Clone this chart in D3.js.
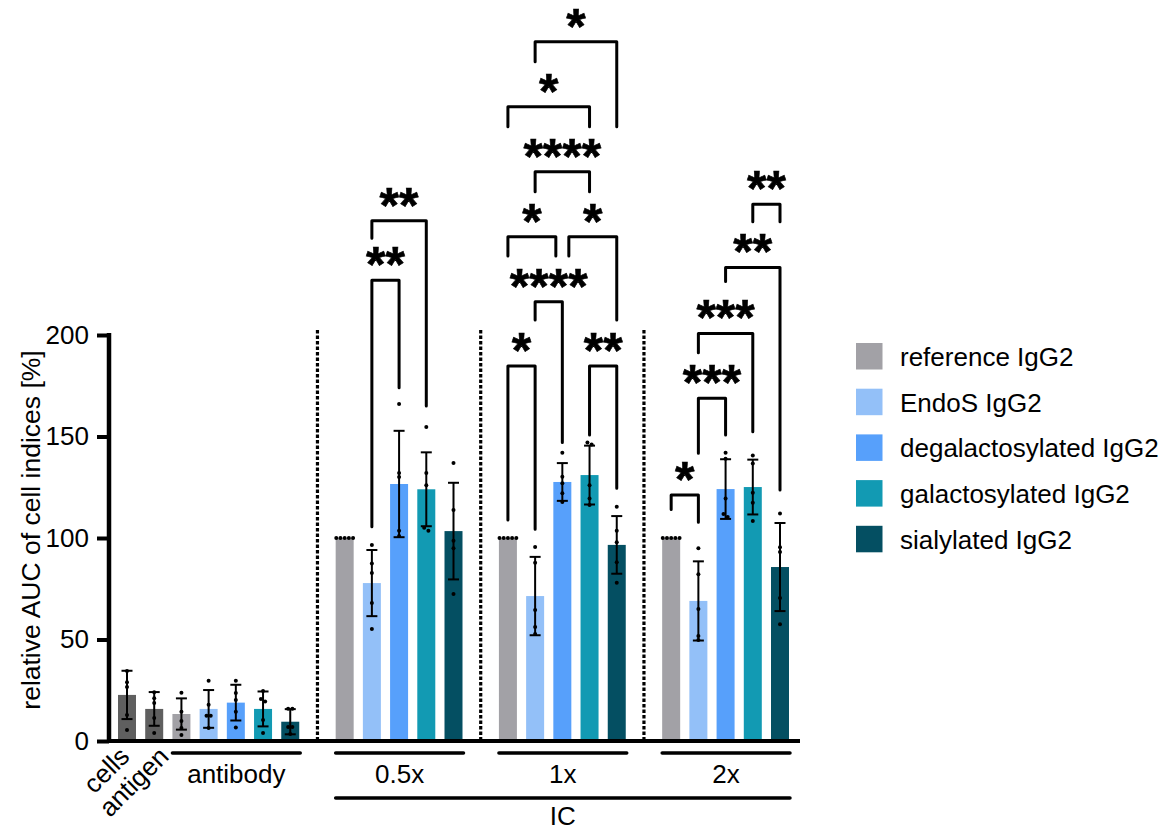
<!DOCTYPE html>
<html>
<head>
<meta charset="utf-8">
<script src="https://cdn.jsdelivr.net/npm/d3@7/dist/d3.min.js"></script>
<style>
  body { margin: 0; background: #fff; }
  svg { display: block; font-family: "Liberation Sans", Arial, sans-serif; }
</style>
</head>
<body>
<svg id="chart" width="1166" height="832"></svg>
<script>
// series (legend) names and colours
const seriesNames = ['reference IgG2', 'EndoS IgG2', 'degalactosylated IgG2', 'galactosylated IgG2', 'sialylated IgG2'];
const seriesColors = ['#a2a1a6', '#93c0f8', '#57a0fb', '#129ab3', '#044f62'];
const controlColor = '#5f5f5f';

// control bars (cells only, antigen only)
const controlNames = ['cells', 'antigen'];
const controlMeans = [22.7, 15.8];
const controlSDs = [11.9, 8.3];
const controlPoints = [
    [34.5, 29, 26.6, 12.8, 5.4],
    [24, 18.7, 21.1, 11.3, 3.9]
];

// grouped bars, one value per series
const groupNames = ['antibody', '0.5x', '1x', '2x'];
const groupMeans = [
    [13.3, 15.8, 18.9, 15.8, 9.5],
    [100, 77.8, 126.6, 124, 103.4],
    [100, 71.4, 127.6, 131, 96.6],
    [100, 69, 124.1, 125.1, 85.7]
];
const groupSDs = [
    [7.7, 9.3, 8.8, 8.6, 6.2],
    [0, 16.3, 26.2, 18.2, 23.8],
    [0, 19.3, 9.3, 14.5, 14.2],
    [0, 19.5, 14.7, 13.5, 21.7]
];
const groupPoints = [
    [[23.8, 14.4, 9.9, 6.4, 3], [29.7, 17.9, 12.5, 12.5, 6.4], [29.7, 23.6, 20.2, 14.4, 6.6], [24.6, 20.7, 19.5, 10.3, 3.9], [15.9, 15.9, 6.9, 6.9, 3.4]],
    [[100, 100, 100, 100, 100], [96.6, 87.5, 82.8, 68, 55.2], [166, 132, 130, 103.6, 101], [154.7, 132, 126, 105, 103.6], [137, 113.8, 98.7, 94.9, 72.4]],
    [[100, 100, 100, 100, 100], [95.6, 87.8, 64.5, 56.2, 52.7], [142, 130.2, 127, 122, 117.7], [147, 146, 126, 119.5, 116.3], [115.4, 103.6, 97.9, 88, 78]],
    [[100, 100, 100, 100, 100], [95, 82.1, 65, 51.7, 49.8], [142, 139, 119.5, 111.8, 110.3], [140.7, 136.7, 122.3, 117.4, 108.4], [112.1, 95.4, 93.1, 70.4, 57.5]]
];

// the IC label spans these groups
const superLabel = 'IC';
const superGroups = [1, 2, 3];

const yTicks = [0, 50, 100, 150, 200];
const yLabel = 'relative AUC of cell indices [%]';

// significance brackets: [group, from series, to series, top, from leg end, to leg end, label]
const brackets = [
    [1, 1, 2, 227, 105.6, 174, '**'],
    [1, 1, 3, 256.3, 247.6, 165, '**'],
    [2, 1, 4, 344.5, 334.6, 302.6, '*'],
    [2, 0, 3, 312.5, 302.6, 302.6, '*'],
    [2, 1, 3, 280.4, 270.6, 270.6, '****'],
    [2, 0, 2, 248.4, 238.9, 238.9, '*'],
    [2, 2, 4, 248.4, 238.9, 207.4, '*'],
    [2, 1, 2, 216.4, 207.4, 147, '****'],
    [2, 0, 1, 184.7, 108.9, 104.3, '*'],
    [2, 3, 4, 184.7, 150.7, 124.5, '**'],
    [3, 0, 1, 121.2, 114.1, 107.7, '*'],
    [3, 1, 2, 168.8, 141.7, 150.7, '***'],
    [3, 1, 3, 200.8, 191.3, 152.4, '***'],
    [3, 2, 4, 233.3, 226.3, 123.6, '**'],
    [3, 3, 4, 264.4, 255.8, 255.8, '**']
];

const svg = d3.select('#chart');
svg.append('rect').attr('width', 1166).attr('height', 832).attr('fill', '#fff');

// slot layout: controls, antibody group, then a gap before every IC group
let slot = 0;
const bars = [];
controlNames.forEach((name, i) => {
    bars.push({ slot: slot++, mean: controlMeans[i], sd: controlSDs[i], pts: controlPoints[i], color: controlColor });
});
const groupSlots = [];
const separators = [];
groupNames.forEach((name, g) => {
    if (g > 0) { separators.push(slot); slot++; }
    groupSlots.push(seriesNames.map((s, k) => slot + k));
    seriesNames.forEach((s, k) => {
        bars.push({ slot: slot++, mean: groupMeans[g][k], sd: groupSDs[g][k], pts: groupPoints[g][k], color: seriesColors[k] });
    });
});
const lastSlot = slot - 1;

const x = d3.scaleLinear().domain([0, lastSlot]).range([127, 780]);
const y = d3.scaleLinear().domain([0, 200]).range([741, 335]);
const barW = 18;
const axisX = 109;
const fontSize = 26;

// bars
svg.append('g').selectAll('rect')
    .data(bars)
    .join('rect')
    .attr('x', d => x(d.slot) - barW / 2)
    .attr('y', d => y(d.mean))
    .attr('width', barW)
    .attr('height', d => y(0) - y(d.mean))
    .attr('fill', d => d.color);

// error bars (mean +/- sd)
const err = svg.append('g').attr('stroke', '#000').attr('stroke-width', 2);
bars.filter(d => d.sd > 0).forEach(d => {
    const cx = x(d.slot);
    err.append('line').attr('x1', cx).attr('x2', cx).attr('y1', y(d.mean + d.sd)).attr('y2', y(d.mean - d.sd));
    [d.mean + d.sd, d.mean - d.sd].forEach(v => {
        err.append('line').attr('x1', cx - 5.5).attr('x2', cx + 5.5).attr('y1', y(v)).attr('y2', y(v));
    });
});

// scatter points, spread sideways when they overlap
function spread(vals) {
    const ys = vals.map(v => y(v));
    const order = d3.range(vals.length).sort((a, b) => ys[a] - ys[b]);
    const offs = new Array(vals.length).fill(0);
    let cluster = [];
    const flush = () => {
        cluster.forEach((idx, k) => { offs[idx] = (k - (cluster.length - 1) / 2) * 4.2; });
        cluster = [];
    };
    order.forEach(idx => {
        if (cluster.length && ys[idx] - ys[cluster[cluster.length - 1]] > 3.2) flush();
        cluster.push(idx);
    });
    flush();
    return offs;
}
const dots = svg.append('g').attr('fill', '#000');
bars.forEach(d => {
    const offs = spread(d.pts);
    d.pts.forEach((v, i) => {
        dots.append('circle').attr('cx', x(d.slot) + offs[i]).attr('cy', y(v)).attr('r', 2);
    });
});

// dotted separators between IC groups
svg.append('g').selectAll('line')
    .data(separators)
    .join('line')
    .attr('x1', d => x(d)).attr('x2', d => x(d))
    .attr('y1', y(200) - 5).attr('y2', y(0))
    .attr('stroke', '#000').attr('stroke-width', 3.2)
    .attr('stroke-dasharray', '3.5 2');

// y axis
const yAxis = svg.append('g')
    .attr('transform', `translate(${axisX},0)`)
    .call(d3.axisLeft(y).tickValues(yTicks).tickSize(12).tickSizeOuter(0).tickPadding(8));
yAxis.select('.domain').attr('stroke-width', 4.5).attr('d', `M0,${y(0) + 2}V${y(200) - 2}`);
yAxis.selectAll('.tick line').attr('stroke-width', 4);
yAxis.selectAll('.tick text').attr('font-size', fontSize).attr('font-family', '"Liberation Sans", Arial, sans-serif').attr('fill', '#000');

// x baseline
svg.append('line')
    .attr('x1', axisX - 2).attr('x2', x(lastSlot) + 20)
    .attr('y1', y(0)).attr('y2', y(0))
    .attr('stroke', '#000').attr('stroke-width', 4);

// y label
svg.append('text')
    .attr('transform', `translate(40,${(y(0) + y(200)) / 2 - 8}) rotate(-90)`)
    .attr('text-anchor', 'middle')
    .attr('font-size', 26.5)
    .text(yLabel);

// rotated control labels
const ctrlDx = [4, 16];
controlNames.forEach((name, i) => {
    svg.append('text')
        .attr('transform', `translate(${x(i) + ctrlDx[i]},${y(0) + 17}) rotate(-45)`)
        .attr('text-anchor', 'end')
        .attr('font-size', fontSize)
        .text(name);
});

// group lines and labels
groupSlots.forEach((slots, g) => {
    const x0 = x(slots[0]) - barW / 2, x1 = x(slots[slots.length - 1]) + barW / 2 + 1;
    svg.append('line').attr('x1', x0).attr('x2', x1).attr('y1', 753).attr('y2', 753)
        .attr('stroke', '#000').attr('stroke-width', 3.5).attr('stroke-linecap', 'round');
    svg.append('text').attr('x', (x0 + x1) / 2).attr('y', 783)
        .attr('text-anchor', 'middle').attr('font-size', fontSize).text(groupNames[g]);
});

// IC super group
{
    const first = groupSlots[superGroups[0]][0];
    const last = groupSlots[superGroups[superGroups.length - 1]].slice(-1)[0];
    const x0 = x(first) - barW / 2, x1 = x(last) + barW / 2 + 1;
    svg.append('line').attr('x1', x0).attr('x2', x1).attr('y1', 798).attr('y2', 798)
        .attr('stroke', '#000').attr('stroke-width', 3.5).attr('stroke-linecap', 'round');
    svg.append('text').attr('x', (x0 + x1) / 2).attr('y', 825)
        .attr('text-anchor', 'middle').attr('font-size', fontSize).text(superLabel);
}

// significance brackets
const br = svg.append('g');
brackets.forEach(b => {
    const [g, a, c, top, endA, endC, label] = b;
    let xa = x(groupSlots[g][a]), xc = x(groupSlots[g][c]);
    // nudge legs that would otherwise share a bar with a neighbouring bracket of the same height
    brackets.forEach(o => {
        if (o === b || o[0] !== g || o[3] !== top) return;
        if (o[1] === c) xc -= 6.5;
        if (o[2] === a) xa += 6.5;
    });
    br.append('path')
        .attr('d', `M${xa},${y(endA)}V${y(top)}H${xc}V${y(endC)}`)
        .attr('fill', 'none').attr('stroke', '#000').attr('stroke-width', 3)
        .attr('stroke-linejoin', 'round').attr('stroke-linecap', 'round');
    br.append('text')
        .attr('x', (xa + xc) / 2).attr('y', y(top) + 2)
        .attr('text-anchor', 'middle')
        .attr('font-size', 50).attr('font-weight', 'bold')
        .attr('stroke', '#000').attr('stroke-width', 0.6)
        .text(label);
});

// legend
const legend = svg.append('g').attr('transform', 'translate(856,343)');
seriesNames.forEach((name, i) => {
    const row = legend.append('g').attr('transform', `translate(0,${i * 45.7})`);
    row.append('rect').attr('width', 26.5).attr('height', 26.5).attr('fill', seriesColors[i]);
    row.append('text').attr('x', 44).attr('y', 23).attr('font-size', fontSize).text(name);
});
</script>
</body>
</html>
